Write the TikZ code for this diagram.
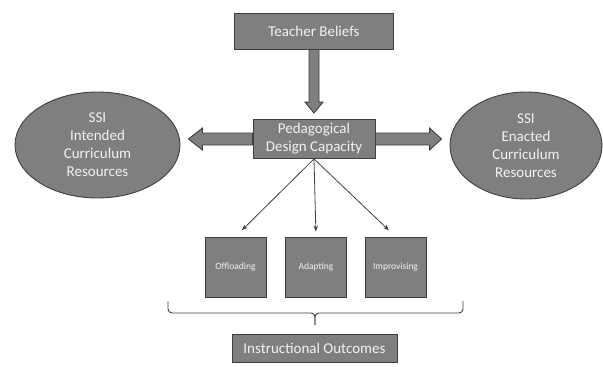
\documentclass[tikz,border=0pt]{standalone}
\usepackage{fontspec}
\setmainfont{Carlito}
\usetikzlibrary{shapes,positioning,arrows.meta,calc}
\pgfdeclarelayer{background}
\pgfsetlayers{background,main}
\definecolor{boxgray}{HTML}{7F7F7F}
\definecolor{linegray}{HTML}{3F3F3F}
\definecolor{textwhite}{HTML}{F2F2F2}

\begin{document}
\begin{tikzpicture}[x=1pt,y=1pt,
  box/.style={draw=linegray,fill=boxgray,line width=0.9pt,text=textwhite,
    inner sep=0pt,align=center,font=\fontsize{15}{18}\selectfont},
  oval/.style={box,ellipse},
  smallbox/.style={box,minimum width=61pt,minimum height=60pt,
    font=\fontsize{9.5}{11}\selectfont},
  blockarrow/.style={draw=linegray,fill=boxgray,line width=0.9pt},
  thin/.style={draw=linegray,line width=0.8pt,-{Stealth[length=6pt,width=4.5pt]}},
  bracket/.style={draw=linegray,line width=0.9pt,rounded corners=4pt}]
  \useasboundingbox (0,0) rectangle (603,-367);
  \node[box,minimum width=159pt,minimum height=36pt] (beliefs) at (314,-31) {Teacher Beliefs};
  \node[box,minimum width=122pt,minimum height=39pt] (pdc) at (314,-139) {Pedagogical\\Design Capacity};
  \node[oval,minimum width=165pt,minimum height=106pt] (intended) at (97.5,-145) {SSI\\Intended\\Curriculum\\Resources};
  \node[oval,minimum width=152pt,minimum height=107pt] (enacted) at (526,-145.5) {SSI\\Enacted\\Curriculum\\Resources};
  \node[smallbox] (off) at (235.5,-267) {Offloading};
  \node[smallbox] (adapt) at (316,-267) {Adapting};
  \node[smallbox] (impro) at (395.5,-267) {Improvising};
  \node[box,minimum width=165pt,minimum height=28pt] (outcomes) at (314.5,-348.5) {Instructional Outcomes};
  \coordinate (bl) at (168,-301);
  \coordinate (br) at (463,-301);
  \coordinate (tip) at (315,-325);
  % fat arrows sit behind the boxes
  \begin{pgfonlayer}{background}
  \draw[blockarrow] ($(beliefs.south)+(-5,0)$) -- ($(pdc.north)+(-5,17)$) -- ++(-4,0)
    -- ($(pdc.north)+(0,6)$) -- ($(pdc.north)+(9,17)$) -- ++(-4,0)
    -- ($(beliefs.south)+(5,0)$) -- cycle;
  \draw[blockarrow] ($(pdc.west)+(0,6)$) -- ($(pdc.west -| intended.east)+(22,6)$) -- ++(0,5)
    -- ($(pdc.west -| intended.east)+(8,0)$) -- ($(pdc.west -| intended.east)+(22,-11)$) -- ++(0,5)
    -- ($(pdc.west)+(0,-6)$) -- cycle;
  \draw[blockarrow] ($(pdc.east)+(0,6)$) -- ($(pdc.east -| enacted.west)+(-20,6)$) -- ++(0,5)
    -- ($(pdc.east -| enacted.west)+(-8,0)$) -- ($(pdc.east -| enacted.west)+(-20,-11)$) -- ++(0,5)
    -- ($(pdc.east)+(0,-6)$) -- cycle;
  \end{pgfonlayer}
  \draw[thin,shorten >=9pt] (pdc.south) -- (off.north);
  \draw[thin,shorten >=5pt] (pdc.south) -- (adapt.north);
  \draw[thin,shorten >=9pt] (pdc.south) -- (impro.north);
  % bracket gathering the three boxes
  \draw[bracket] (bl) -- ++(0,-12) -| (tip);
  \draw[bracket] (br) -- ++(0,-12) -| (tip);
\end{tikzpicture}
\end{document}
